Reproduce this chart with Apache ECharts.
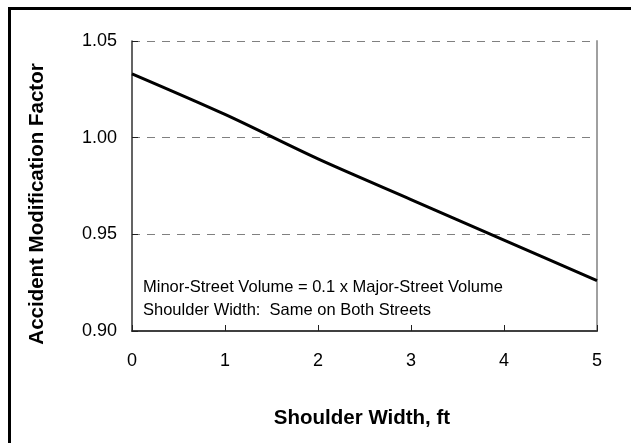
<!DOCTYPE html>
<html>
<head>
<meta charset="utf-8">
<script src="https://cdn.jsdelivr.net/npm/echarts@6/dist/echarts.min.js"></script>
<style>
html,body{margin:0;padding:0;background:#fff;}
#chart{width:631px;height:443px;}
</style>
</head>
<body>
<div id="chart"></div>
<script>
// Data
var shoulderWidth = [0, 1, 2, 3, 4, 5];
var amfValues = [1.033, 1.012, 0.989, 0.968, 0.947, 0.926];
var xTickLabels = ['0', '1', '2', '3', '4', '5'];
var yTickLabels = ['0.90', '0.95', '1.00', '1.05'];
var xTitle = 'Shoulder Width, ft';
var yTitle = 'Accident Modification Factor';
var noteLines = ['Minor-Street Volume = 0.1 x Major-Street Volume', 'Shoulder Width:  Same on Both Streets'];

var FONT = "'Liberation Sans', Arial, sans-serif";
var chart = echarts.init(document.getElementById('chart'), null, {renderer: 'canvas'});

var points = shoulderWidth.map(function (x, i) { return [x, amfValues[i]]; });

chart.setOption({
  animation: false,
  backgroundColor: '#ffffff',
  grid: {left: 132, top: 41, right: 34, bottom: 112, containLabel: false},
  xAxis: {
    type: 'value', min: 0, max: 5, interval: 1,
    axisLine: {show: true, onZero: false, lineStyle: {color: '#404040', width: 2}},
    axisTick: {show: true, inside: true, length: 6, lineStyle: {color: '#202020', width: 1}},
    axisLabel: {
      color: '#000', fontFamily: FONT, fontSize: 18, margin: 21,
      formatter: function (v) { return xTickLabels[Math.round(v)]; }
    },
    splitLine: {show: false}
  },
  yAxis: [{
    type: 'value', min: 0.90, max: 1.05, interval: 0.05,
    axisLine: {show: true, lineStyle: {color: '#303030', width: 1.5}},
    axisTick: {show: true, inside: true, length: 6, lineStyle: {color: '#202020', width: 1}},
    axisLabel: {
      color: '#000', fontFamily: FONT, fontSize: 18, margin: 15,
      formatter: function (v) { return yTickLabels[Math.round((v - 0.90) / 0.05)]; }
    },
    splitLine: {show: true, lineStyle: {color: '#808080', width: 1, type: [8, 7]}}
  }, {
    type: 'value', min: 0.90, max: 1.05, interval: 0.05, position: 'right',
    axisLine: {show: true, lineStyle: {color: '#a0a0a0', width: 2}},
    axisTick: {show: false}, axisLabel: {show: false}, splitLine: {show: false}
  }],
  series: [{
    type: 'line',
    data: points,
    showSymbol: false,
    smooth: 0.3,
    lineStyle: {color: '#000', width: 3},
    z: 5
  }],
  graphic: [
    {type: 'rect', shape: {x: 9.5, y: 8.5, width: 800, height: 600},
     style: {fill: 'none', stroke: '#000', lineWidth: 3}, silent: true},
    {type: 'text', x: 37, y: 204, rotation: Math.PI / 2,
     style: {text: yTitle, fill: '#000', font: 'bold 20.5px ' + FONT, align: 'center', verticalAlign: 'middle'}},
    {type: 'text', x: 362, y: 418,
     style: {text: xTitle, fill: '#000', font: 'bold 20.5px ' + FONT, align: 'center', verticalAlign: 'middle'}},
    {type: 'text', x: 143, y: 287,
     style: {text: noteLines[0], fill: '#000', font: '16.5px ' + FONT, align: 'left', verticalAlign: 'middle'}},
    {type: 'text', x: 143, y: 310,
     style: {text: noteLines[1], fill: '#000', font: '16.5px ' + FONT, align: 'left', verticalAlign: 'middle'}}
  ]
});
</script>
</body>
</html>
